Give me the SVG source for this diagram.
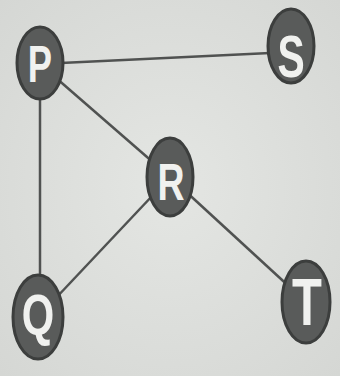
<svg xmlns="http://www.w3.org/2000/svg" width="340" height="376" viewBox="0 0 340 376">
<defs>
<radialGradient id="bg" cx="0.5" cy="0.5" r="0.75">
<stop offset="0" stop-color="#e4e6e3"/>
<stop offset="1" stop-color="#d4d6d3"/>
</radialGradient>
<style>
.node ellipse{fill:#595b5a;stroke:#3c3e3d;stroke-width:3}
.node text{font-family:"Liberation Sans",Arial,sans-serif;font-weight:bold;fill:#f0f1ef;text-anchor:middle}
.edges line{stroke:#505251;stroke-width:2.5}
</style>
</defs>
<rect width="340" height="376" fill="url(#bg)"/>
<g class="edges">
<line x1="40" y1="64" x2="291" y2="52"/>
<line x1="40" y1="64" x2="170" y2="177"/>
<line x1="40" y1="64" x2="40" y2="317"/>
<line x1="170" y1="177" x2="38" y2="317"/>
<line x1="170" y1="177" x2="306" y2="302"/>
</g>
<g id="P" class="node"><ellipse cx="40" cy="63" rx="23" ry="36"/><text transform="translate(40,82) scale(0.7,1)" font-size="52">P</text></g>
<g id="S" class="node"><ellipse cx="291" cy="46" rx="23" ry="37"/><text transform="translate(291,77) scale(0.68,1)" font-size="60">S</text></g>
<g id="R" class="node"><ellipse cx="170" cy="177" rx="23" ry="39"/><text transform="translate(171,200) scale(0.72,1)" font-size="52">R</text></g>
<g id="Q" class="node"><ellipse cx="38" cy="317" rx="25" ry="42"/><text transform="translate(38,335) scale(0.72,1)" font-size="58">Q</text></g>
<g id="T" class="node"><ellipse cx="306" cy="302" rx="24" ry="41"/><text transform="translate(307,325) scale(0.73,1)" font-size="67">T</text></g>
</svg>
